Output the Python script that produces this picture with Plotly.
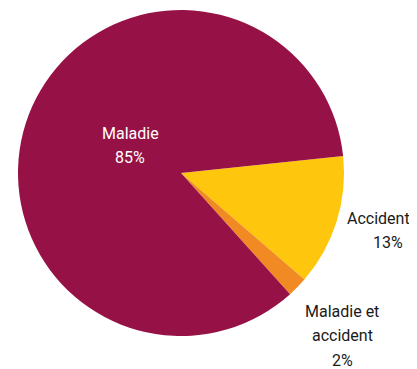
import plotly.graph_objects as go

# données
labels = ["Accident", "Maladie et accident", "Maladie"]
label_lines = [["Accident"], ["Maladie et", "accident"], ["Maladie"]]
values = [13, 2, 85]
colors = ["#FEC70D", "#F28A24", "#961246"]

# la page ajoute une marge de 8px autour du graphique
OFF = 8
W, H = 417 - OFF, 369 - OFF
cx, cy, r = 181 - OFF, 173 - OFF, 163

fig = go.Figure(go.Pie(
    labels=labels, values=values,
    marker=dict(colors=colors, line=dict(width=0)),
    sort=False, direction="clockwise", rotation=84,
    textinfo="none", hoverinfo="label+percent",
    domain=dict(x=[(cx - r) / W, (cx + r) / W], y=[1 - (cy + r) / H, 1 - (cy - r) / H]),
))

# position des étiquettes (pixels): centre x de chaque ligne, y de la première ligne
label_pos = [(378, 218), (342, 311), (130, 133)]
text_col = ["#1a1a1a", "#1a1a1a", "white"]
font = "Roboto, sans-serif"

for lines, v, (px, py), col in zip(label_lines, values, label_pos, text_col):
    allines = lines + [f"{v}%"]
    for i, t in enumerate(allines):
        x = px - OFF + (10 if (t.endswith("%") and lines == ["Accident"]) else 0)
        y = py - OFF + 24.5 * i
        fig.add_annotation(x=x / W, y=1 - y / H, xref="paper", yref="paper",
                           text=t, showarrow=False, xanchor="center", yanchor="middle",
                           font=dict(size=16, color=col, family=font))

fig.update_layout(width=W, height=H, margin=dict(l=0, r=0, t=0, b=0),
                  showlegend=False, paper_bgcolor="white")

fig.write_html("out.html")
